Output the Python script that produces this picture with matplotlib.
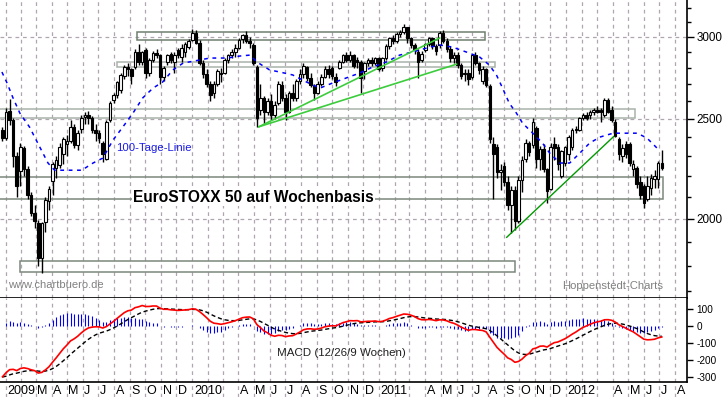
import numpy as np
import pandas as pd
import matplotlib
matplotlib.use('Agg')
import matplotlib.pyplot as plt
import matplotlib.dates as mdates
from matplotlib.patches import Rectangle
from matplotlib.transforms import blended_transform_factory

plt.rcParams['font.family'] = ['Liberation Sans', 'DejaVu Sans']

# weekly candles (Friday), EuroSTOXX 50, 26.12.2008 - 06.07.2012
weeks = pd.date_range('2008-12-26', '2012-07-06', freq='W-FRI')

opens = [2440,
    2392, 2545, 2494, 2300, 2224, 2340, 2234, 2110, 2023, 1979, 1830, 1985, 2080, 2175, 2240, 2253, 2309, 2360, 2380, 2456, 2356, 2445,
    2510, 2520, 2505, 2435, 2420, 2370, 2283, 2494, 2608, 2637, 2666, 2750, 2805, 2790, 2805, 2900, 2838, 2912, 2768, 2850, 2895, 2881,
    2743, 2838, 2890, 2840, 2912, 2870, 2900, 2935,
    2980, 3027, 2960, 2830, 2760, 2700, 2650, 2700, 2770, 2770, 2850, 2880, 2900, 2930, 2985, 3010, 2975, 2947, 2805, 2551, 2620, 2540,
    2600, 2520, 2590, 2697, 2620, 2540, 2650, 2620, 2720, 2760, 2805, 2740, 2690, 2650, 2700, 2745, 2790, 2800, 2745, 2800, 2840, 2880,
    2850, 2880, 2850, 2840, 2780, 2830, 2850, 2830, 2860,
    2800, 2862, 2940, 2990, 2975, 3020, 3034, 3068, 2990, 2947, 2901, 2850, 2912, 2950, 2990, 2940, 2947, 3027, 2970, 2920, 2860, 2880,
    2818, 2760, 2770, 2743, 2881, 2830, 2720, 2790, 2690, 2361, 2346, 2219, 2250, 2170, 2060, 2130, 1990, 2180, 2283, 2370, 2356, 2450,
    2283, 2335, 2234, 2138, 2361, 2346, 2200, 2264,
    2309, 2346, 2440, 2440, 2505, 2520, 2520, 2540, 2550, 2550, 2523, 2608, 2551, 2482, 2387, 2300, 2361, 2361, 2234, 2240, 2170, 2150,
    2091, 2140, 2185, 2185, 2264]
highs = [2455,
    2560, 2612, 2505, 2320, 2366, 2352, 2250, 2120, 2060, 1995, 1985, 2100, 2150, 2270, 2300, 2370, 2400, 2410, 2490, 2470, 2440, 2520,
    2540, 2545, 2515, 2470, 2440, 2380, 2490, 2600, 2650, 2720, 2770, 2820, 2830, 2800, 2920, 2950, 2910, 2930, 2860, 2910, 2920, 2890,
    2810, 2890, 2900, 2900, 2925, 2950, 2965, 2985,
    3054, 3050, 2980, 2850, 2790, 2720, 2720, 2790, 2800, 2860, 2890, 2920, 2950, 2990, 3020, 3040, 3000, 2960, 2820, 2700, 2630, 2620,
    2640, 2600, 2720, 2720, 2640, 2660, 2700, 2730, 2790, 2830, 2810, 2770, 2700, 2720, 2760, 2810, 2820, 2810, 2770, 2850, 2890, 2900,
    2905, 2890, 2870, 2850, 2840, 2860, 2870, 2870, 2870,
    2870, 2950, 3000, 3010, 3030, 3045, 3088, 3070, 3000, 2960, 2920, 2910, 2960, 3000, 3000, 2950, 3040, 3050, 2990, 2940, 2900, 2900,
    2830, 2790, 2790, 2890, 2900, 2840, 2810, 2800, 2700, 2400, 2360, 2260, 2270, 2200, 2150, 2150, 2200, 2300, 2390, 2380, 2505, 2460,
    2350, 2360, 2240, 2370, 2400, 2360, 2330, 2350,
    2410, 2450, 2460, 2510, 2530, 2540, 2550, 2560, 2570, 2560, 2620, 2615, 2570, 2500, 2400, 2360, 2380, 2375, 2280, 2250, 2200, 2160,
    2200, 2210, 2230, 2275, 2330]
lows = [2380,
    2385, 2465, 2245, 2100, 2150, 2200, 2090, 2010, 1960, 1800, 1770, 1940, 2040, 2110, 2190, 2240, 2260, 2300, 2370, 2340, 2330, 2420,
    2470, 2470, 2420, 2380, 2370, 2270, 2280, 2480, 2590, 2620, 2650, 2730, 2750, 2700, 2790, 2820, 2820, 2740, 2750, 2840, 2860, 2700,
    2720, 2820, 2830, 2770, 2860, 2840, 2870, 2920,
    2970, 2950, 2820, 2740, 2680, 2600, 2620, 2690, 2710, 2760, 2830, 2860, 2870, 2920, 2960, 2960, 2930, 2820, 2456, 2520, 2470, 2520,
    2490, 2500, 2580, 2600, 2490, 2530, 2600, 2600, 2700, 2740, 2720, 2680, 2608, 2640, 2690, 2740, 2740, 2730, 2690, 2790, 2830, 2840,
    2840, 2800, 2800, 2650, 2730, 2810, 2810, 2820, 2780,
    2780, 2850, 2920, 2950, 2960, 3000, 3020, 2960, 2930, 2890, 2740, 2840, 2900, 2940, 2920, 2880, 2930, 2960, 2900, 2840, 2830, 2800,
    2730, 2720, 2697, 2730, 2820, 2760, 2700, 2680, 2370, 2091, 2190, 2130, 2150, 2040, 1935, 1950, 1980, 2120, 2270, 2300, 2340, 2240,
    2230, 2220, 2070, 2130, 2280, 2230, 2190, 2250,
    2280, 2330, 2420, 2430, 2490, 2490, 2500, 2520, 2530, 2480, 2510, 2530, 2480, 2400, 2280, 2270, 2290, 2250, 2200, 2140, 2090, 2050,
    2080, 2110, 2140, 2140, 2230]
closes = [2392,
    2540, 2494, 2300, 2152, 2346, 2234, 2110, 2023, 1990, 1830, 1980, 2085, 2135, 2258, 2280, 2346, 2387, 2380, 2456, 2356, 2420, 2505,
    2520, 2505, 2440, 2420, 2392, 2310, 2482, 2590, 2637, 2710, 2756, 2805, 2790, 2750, 2900, 2838, 2900, 2768, 2850, 2895, 2880, 2743,
    2800, 2880, 2850, 2880, 2880, 2930, 2950, 2975,
    3027, 2960, 2830, 2760, 2700, 2637, 2700, 2780, 2760, 2850, 2880, 2900, 2930, 2980, 3010, 2970, 2960, 2830, 2505, 2620, 2540, 2600,
    2520, 2580, 2700, 2620, 2540, 2650, 2620, 2720, 2760, 2810, 2740, 2697, 2650, 2700, 2745, 2790, 2760, 2750, 2710, 2840, 2880, 2850,
    2880, 2810, 2840, 2740, 2830, 2850, 2830, 2860, 2792,
    2862, 2940, 2990, 2970, 3020, 3035, 3068, 2990, 2947, 2912, 2838, 2890, 2950, 2990, 2940, 2910, 3027, 2970, 2920, 2860, 2880, 2818,
    2750, 2770, 2730, 2881, 2830, 2787, 2790, 2697, 2387, 2309, 2219, 2230, 2170, 2060, 2130, 1990, 2180, 2280, 2370, 2320, 2480, 2283,
    2335, 2234, 2128, 2346, 2340, 2258, 2324, 2346,
    2399, 2440, 2445, 2505, 2520, 2505, 2540, 2550, 2540, 2540, 2608, 2540, 2494, 2405, 2309, 2340, 2309, 2264, 2258, 2160, 2110, 2070,
    2150, 2190, 2200, 2264, 2240]

# 2008 weekly closes, only needed to start the MACD
warmup_weeks = pd.date_range('2008-01-04', '2008-12-19', freq='W-FRI')
warmup_closes = [4290, 4140, 3930, 3900, 3980, 3740, 3780, 3790, 3720, 3550, 3530, 3540, 3640, 3730, 3710, 3770, 3850,
                 3850, 3770, 3860, 3780, 3780, 3640, 3540, 3440, 3350, 3260, 3240, 3310, 3420, 3390, 3420, 3420, 3390,
                 3370, 3170, 3230, 3290, 3130, 2990, 2450, 2600, 2340, 2590, 2510, 2410, 2170, 2430, 2290, 2430, 2420]

# 100-Tage-Linie
ma_dates = ['2008-12-25', '2009-01-04', '2009-01-15', '2009-01-29', '2009-02-17', '2009-03-09', '2009-03-25',
            '2009-04-07', '2009-05-01', '2009-05-30', '2009-06-21', '2009-07-10', '2009-07-30', '2009-08-18',
            '2009-09-07', '2009-09-26', '2009-10-16', '2009-11-04', '2009-11-24', '2009-12-14', '2010-01-16',
            '2010-02-04', '2010-03-10', '2010-04-04', '2010-04-24', '2010-05-07', '2010-06-01', '2010-06-21',
            '2010-07-16', '2010-08-12', '2010-09-07', '2010-10-02', '2010-10-29', '2010-11-24', '2010-12-19',
            '2011-01-15', '2011-02-10', '2011-03-07', '2011-04-04', '2011-04-29', '2011-05-24', '2011-06-20',
            '2011-07-16', '2011-08-04', '2011-08-18', '2011-08-30', '2011-09-12', '2011-09-26', '2011-10-08',
            '2011-10-28', '2011-11-16', '2011-11-30', '2011-12-20', '2012-01-08', '2012-01-28', '2012-02-16',
            '2012-03-07', '2012-04-02', '2012-04-29', '2012-05-19', '2012-06-07', '2012-06-27']
ma_values = [2774, 2707, 2623, 2531, 2453, 2346, 2264, 2228, 2228, 2228, 2264, 2289, 2383, 2453, 2531, 2618,
             2676, 2713, 2787, 2830, 2850, 2862, 2862, 2875, 2881, 2837, 2787, 2774, 2756, 2713, 2676, 2707,
             2738, 2768, 2805, 2837, 2881, 2901, 2927, 2947, 2933, 2901, 2869, 2818, 2756, 2676, 2588, 2531,
             2475, 2420, 2367, 2315, 2264, 2264, 2315, 2367, 2399, 2420, 2420, 2420, 2394, 2340]

# Trendlinien
trend_a_dates = ['2010-05-11', '2011-04-29']
trend_a_values = [2455, 2993]
trend_b_dates = ['2010-05-11', '2011-06-01']
trend_b_values = [2455, 2823]
trend_c_dates = ['2011-09-07', '2012-04-03']
trend_c_values = [1918, 2402]

# horizontal zones: start, end, lower, upper
zone_start = ['2009-09-15', '2009-08-07', '2008-12-10', '2008-12-10', '2009-01-29']
zone_end = ['2011-07-26', '2011-08-15', '2012-05-15', '2012-07-09', '2011-09-24']
zone_low = [2980, 2805, 2505, 2091, 1776]
zone_high = [3034, 2837, 2557, 2194, 1820]
zone_colors = ['#6f7f6f', '#a9b1a9', '#a9b1a9', '#7c887c', '#7c887c']

month_labels = ['2009', 'M', 'A', 'M', 'J', 'J', 'A', 'S', 'O', 'N', 'D',
                '2010', 'A', 'M', 'J', 'J', 'A', 'S', 'O', 'N', 'D',
                '2011', 'A', 'M', 'J', 'J', 'A', 'S', 'O', 'N', 'D',
                '2012', 'A', 'M', 'J', 'J', 'A']
month_label_dates = ['2009-01', '2009-03', '2009-04', '2009-05', '2009-06', '2009-07', '2009-08', '2009-09',
                     '2009-10', '2009-11', '2009-12', '2010-01', '2010-04', '2010-05', '2010-06', '2010-07',
                     '2010-08', '2010-09', '2010-10', '2010-11', '2010-12', '2011-01', '2011-04', '2011-05',
                     '2011-06', '2011-07', '2011-08', '2011-09', '2011-10', '2011-11', '2011-12', '2012-01',
                     '2012-04', '2012-05', '2012-06', '2012-07', '2012-08']

W, H = 723, 397
fig = plt.figure(figsize=(W / 100, H / 100), dpi=100)
x_right = 687 / W
ax = fig.add_axes([0, 99 / H, x_right, 298 / H])
axm = fig.add_axes([0, 15 / H, x_right, 84 / H], sharex=ax)
axl = fig.add_axes([0, 0, x_right, 15 / H], sharex=ax)

grid_kw = dict(color='#b0a6b0', lw=0.9, dashes=(3, 3))
xmin, xmax = pd.Timestamp('2008-12-21 06:00'), pd.Timestamp('2012-08-24 06:00')
month_starts = pd.date_range('2009-01-01', '2012-08-01', freq='MS')

# main panel
ax.set_yscale('log')
ax.set_ylim(1675, 3258)
ax.set_xlim(xmin, xmax)
for m in month_starts:
    ax.axvline(m, zorder=0, **grid_kw)
    axm.axvline(m, zorder=0, **grid_kw)
    axl.axvline(m, zorder=0, **grid_kw)
for lev in [2000, 2500, 3000]:
    ax.axhline(lev, zorder=0, **grid_kw)

for s, e, lo, hi, col in zip(zone_start, zone_end, zone_low, zone_high, zone_colors):
    x0 = mdates.date2num(pd.Timestamp(s))
    x1 = mdates.date2num(pd.Timestamp(e))
    ax.add_patch(Rectangle((x0, lo), x1 - x0, hi - lo, fill=False, edgecolor=col, lw=1.1, zorder=1))

xs = mdates.date2num(weeks)
o = np.array(opens, float)
h = np.array(highs, float)
l = np.array(lows, float)
c = np.array(closes, float)
up = c >= o
ax.vlines(xs, l, h, color='black', lw=1.0, zorder=3)
ax.bar(xs, np.abs(c - o), bottom=np.minimum(o, c), width=5.0,
       color=np.where(up, 'white', 'black'), edgecolor='black', lw=0.8, zorder=4)

ax.plot(pd.to_datetime(ma_dates), ma_values, color='#0000ff', lw=1.1, dashes=(2.5, 3), zorder=5)
ax.plot(pd.to_datetime(trend_a_dates), trend_a_values, color='#3ccc3c', lw=1.2, zorder=5)
ax.plot(pd.to_datetime(trend_b_dates), trend_b_values, color='#3ccc3c', lw=1.2, zorder=5)
ax.plot(pd.to_datetime(trend_c_dates), trend_c_values, color='#009900', lw=1.0, zorder=5)

ax.yaxis.tick_right()
ax.set_yticks([2000, 2500, 3000])
ax.set_yticklabels(['2000', '2500', '3000'])
ax.set_yticks(np.arange(1700, 3300, 100), minor=True)
ax.yaxis.set_minor_formatter(plt.NullFormatter())
ax.tick_params(axis='y', which='major', direction='out', length=5, width=1, labelsize=8.4, pad=2, colors='black')
ax.tick_params(axis='y', which='minor', direction='out', length=3, width=1)
ax.tick_params(axis='x', which='both', bottom=False, labelbottom=False)
for side in ['left', 'top']:
    ax.spines[side].set_visible(False)
ax.spines['right'].set_linewidth(1.2)
ax.spines['bottom'].set_linewidth(1.2)

fig.text(133 / W, 1 - 197 / H, 'EuroSTOXX 50 auf Wochenbasis', fontsize=11.2, fontweight='bold',
         ha='left', va='center', color='black',
         bbox=dict(facecolor='white', edgecolor='none', pad=1.0))
fig.text(116 / W, 1 - 148 / H, '100-Tage-Linie', fontsize=8.2, color='#1a1ae6', ha='left', va='center')
fig.text(8 / W, 1 - 285 / H, 'www.chartbuero.de', fontsize=8.0, color='#808080', ha='left', va='center')
fig.text(562 / W, 1 - 286 / H, 'Hoppenstedt-Charts', fontsize=8.1, color='#808080', ha='left', va='center')

# MACD panel
allc = pd.Series(warmup_closes + closes, index=warmup_weeks.append(weeks))
ema12 = allc.ewm(span=12, adjust=False).mean()
ema26 = allc.ewm(span=26, adjust=False).mean()
macd = ema12 - ema26
signal = macd.ewm(span=9, adjust=False).mean()
hist = macd - signal
macd, signal, hist = macd[weeks], signal[weeks], hist[weeks]

axm.vlines(xs, 0, hist.values, color='#0000ff', lw=0.8, zorder=2)
axm.plot(weeks, signal.values, color='black', lw=1.0, dashes=(3, 2), zorder=3)
axm.plot(weeks, macd.values, color='#ff0000', lw=1.2, zorder=4)
axm.set_ylim(-330, 165)
axm.yaxis.tick_right()
axm.set_yticks([-300, -200, -100, 0, 100])
axm.set_yticklabels(['-300', '-200', '-100', '0', '100'])
axm.tick_params(axis='y', direction='out', length=4, width=1, labelsize=7.2, pad=3)
axm.tick_params(axis='x', which='both', bottom=False, labelbottom=False)
for side in ['left', 'top']:
    axm.spines[side].set_visible(False)
axm.spines['right'].set_linewidth(1.2)
axm.spines['bottom'].set_linewidth(1.2)
fig.text(277 / W, 1 - 353 / H, 'MACD (12/26/9 Wochen)', fontsize=8.25, color='#202020', ha='left', va='center')

# month label strip
axl.set_ylim(0, 1)
axl.axis('off')
tr = blended_transform_factory(axl.transData, axl.transAxes)
for lab, d in zip(month_labels, month_label_dates):
    axl.text(pd.Timestamp(d) + pd.Timedelta(days=3), 0.42, lab, transform=tr,
             fontsize=9, ha='left', va='center', color='black')

fig.savefig('out.png', dpi=100)
